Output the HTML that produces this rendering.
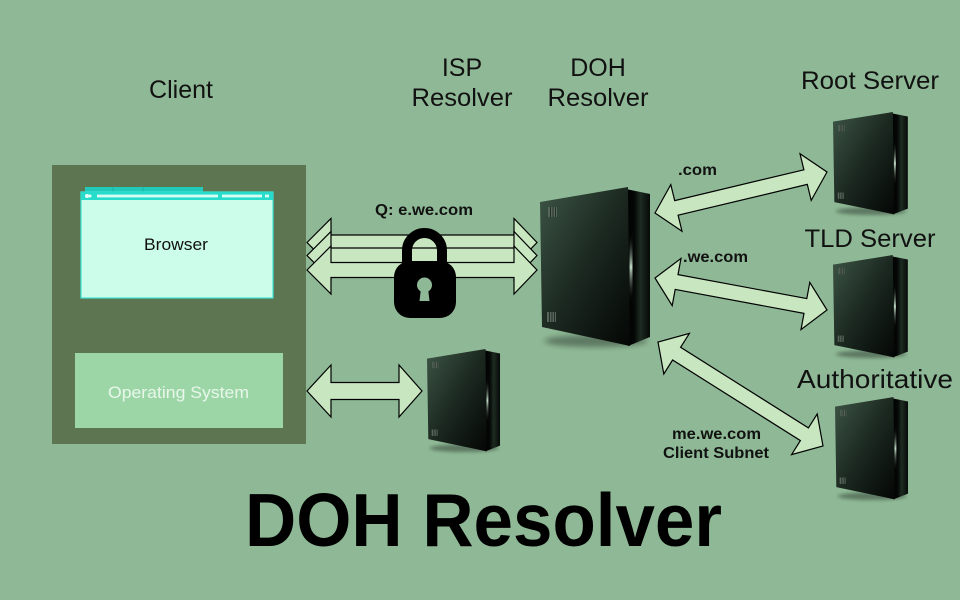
<!DOCTYPE html>
<html><head><meta charset="utf-8"><style>
html,body{margin:0;padding:0;background:#8fb996;}
svg{display:block;}
text{font-family:"Liberation Sans",sans-serif;fill:#111;}
</style></head><body>
<svg width="960" height="600" viewBox="0 0 960 600" xmlns="http://www.w3.org/2000/svg">
<defs>
  <linearGradient id="front" x1="0" y1="0" x2="1" y2="1">
    <stop offset="0" stop-color="#3d5546"/>
    <stop offset="0.5" stop-color="#1b2820"/>
    <stop offset="1" stop-color="#040605"/>
  </linearGradient>
  <linearGradient id="side" x1="0" y1="0" x2="1" y2="0">
    <stop offset="0" stop-color="#000"/>
    <stop offset="0.35" stop-color="#050806"/>
    <stop offset="0.6" stop-color="#1d2b22"/>
    <stop offset="1" stop-color="#070a08"/>
  </linearGradient>
  <linearGradient id="hl" x1="0" y1="0" x2="0" y2="1">
    <stop offset="0" stop-color="#000" stop-opacity="0"/>
    <stop offset="0.5" stop-color="#c0dcc6"/>
    <stop offset="1" stop-color="#000" stop-opacity="0"/>
  </linearGradient>
  <filter id="blur" x="-20%" y="-100%" width="140%" height="300%"><feGaussianBlur stdDeviation="3"/></filter>
  <g id="srv">
    <ellipse cx="56" cy="154" rx="52" ry="6" fill="#000" opacity=".35" filter="url(#blur)"/>
    <polygon points="86,2 110,7 110,150 88,159" fill="url(#side)"/>
    <polygon points="0,15 88,0 90,159 2,140" fill="url(#front)"/>
    <rect x="89.5" y="45" width="3" height="70" fill="url(#hl)"/>
    <g fill="#56665b">
      <rect x="8" y="20" width="9" height="10"/>
      <rect x="7" y="125" width="9" height="10"/>
    </g>
    <g stroke="#1a221d" stroke-width="0.8">
      <line x1="10.5" y1="20" x2="10.5" y2="30"/><line x1="13" y1="20" x2="13" y2="30"/><line x1="15.5" y1="20" x2="15.5" y2="30"/>
      <line x1="9.5" y1="125" x2="9.5" y2="135"/><line x1="12" y1="125" x2="12" y2="135"/><line x1="14.5" y1="125" x2="14.5" y2="135"/>
    </g>
  </g>
</defs>

<rect width="960" height="600" fill="#8fb996"/>

<!-- Top labels -->
<text x="181" y="98" font-size="25" text-anchor="middle">Client</text>
<text x="462" y="76" font-size="25" text-anchor="middle">ISP</text>
<text x="462" y="106" font-size="25" text-anchor="middle" textLength="101" lengthAdjust="spacingAndGlyphs">Resolver</text>
<text x="598" y="76" font-size="25" text-anchor="middle">DOH</text>
<text x="598" y="106" font-size="25" text-anchor="middle" textLength="101" lengthAdjust="spacingAndGlyphs">Resolver</text>
<text x="870" y="89" font-size="25" text-anchor="middle" textLength="138" lengthAdjust="spacingAndGlyphs">Root Server</text>
<text x="870" y="247" font-size="25" text-anchor="middle" textLength="131" lengthAdjust="spacingAndGlyphs">TLD Server</text>
<text x="875" y="388" font-size="26" text-anchor="middle" textLength="156" lengthAdjust="spacingAndGlyphs">Authoritative</text>

<!-- Client box -->
<rect x="52" y="165" width="254" height="279" fill="#5e7552"/>
<!-- Browser -->
<rect x="85" y="187" width="118" height="7" fill="#20c9b9"/>
<line x1="113" y1="187" x2="113" y2="193" stroke="#18b0a2" stroke-width="1"/>
<line x1="143" y1="187" x2="143" y2="193" stroke="#18b0a2" stroke-width="1"/>
<rect x="81" y="192" width="192" height="106" fill="#ccfdea" stroke="#3ee6d6" stroke-width="1.2"/>
<rect x="81" y="192" width="192" height="8" fill="#27dccb"/>
<circle cx="87" cy="196" r="2" fill="#e8fff9"/>
<circle cx="90" cy="196" r="1.5" fill="#e8fff9"/>
<rect x="97" y="194.6" width="121" height="2.8" fill="#d9fff4"/>
<rect x="222" y="194.6" width="40" height="2.8" fill="#d9fff4"/>
<rect x="265" y="194.6" width="4" height="2.8" fill="#d9fff4"/>
<text x="176" y="250" font-size="16.5" text-anchor="middle" textLength="64" lengthAdjust="spacingAndGlyphs">Browser</text>
<!-- OS -->
<rect x="75" y="353" width="208" height="75" fill="#9cd6a7"/>
<text x="178.5" y="398" font-size="17" text-anchor="middle" style="fill:#e8f7ea" textLength="141" lengthAdjust="spacingAndGlyphs">Operating System</text>

<!-- Client <-> DOH arrows -->
<g fill="#c8e7c0" stroke="#000" stroke-width="1.2" stroke-linejoin="miter">
  <polygon points="307,242.5 331,218.5 331,235 514,235 514,218.5 537,242.5 514,266.5 514,250 331,250 331,266.5"/>
  <polygon points="307,255.5 331,231.5 331,248 514,248 514,231.5 537,255.5 514,279.5 514,263 331,263 331,279.5"/>
  <polygon points="307,270 331,246 331,262.5 514,262.5 514,246 537,270 514,294 514,277.5 331,277.5 331,294"/>
  <!-- OS <-> ISP -->
  <polygon points="307,391 331,365 331,382.5 399,382.5 399,365 422,391 399,417 399,399.5 331,399.5 331,417"/>
  <!-- DOH <-> Root -->
  <polygon points="655,213 682.0,231.2 678.1,215.2 807.3,184.4 811.2,200.4 827,172 800.0,153.8 803.9,169.8 674.7,200.6 670.8,184.6"/>
  <!-- DOH <-> TLD -->
  <polygon points="655,278 672.2,305.6 675.2,289.4 804.0,313.4 801.0,329.6 827,310 809.8,282.4 806.8,298.6 678.0,274.6 681.0,258.4"/>
  <!-- DOH <-> Auth -->
  <polygon points="658,342 663.8,374.0 672.6,360.0 800.4,440.6 791.6,454.6 823,446 817.2,414.0 808.4,427.9 680.6,347.3 689.4,333.4"/>
</g>

<!-- Lock -->
<path d="M407,266 L407,250.5 A17.5,17.5 0 0 1 442,250.5 L442,266" fill="none" stroke="#000" stroke-width="10"/>
<rect x="394" y="261" width="62" height="57" rx="16" ry="16" fill="#000"/>
<circle cx="424.5" cy="285" r="7.5" fill="#8fb996"/>
<polygon points="421,288 428,288 429.5,301 419.5,301" fill="#8fb996"/>
<text x="424" y="215" font-size="15.5" font-weight="bold" text-anchor="middle" textLength="98" lengthAdjust="spacingAndGlyphs">Q: e.we.com</text>

<!-- Servers -->
<use href="#srv" transform="translate(540,187)"/>
<use href="#srv" transform="translate(427,349) scale(0.664,0.644)"/>
<use href="#srv" transform="translate(833,112) scale(0.68,0.644)"/>
<use href="#srv" transform="translate(833,255) scale(0.68,0.644)"/>
<use href="#srv" transform="translate(835,397) scale(0.664,0.644)"/>

<!-- Connector labels -->
<text x="697.5" y="175" font-size="15.5" font-weight="bold" text-anchor="middle" textLength="39" lengthAdjust="spacingAndGlyphs">.com</text>
<text x="715.5" y="262" font-size="15.5" font-weight="bold" text-anchor="middle" textLength="65" lengthAdjust="spacingAndGlyphs">.we.com</text>
<text x="716.5" y="439" font-size="15.5" font-weight="bold" text-anchor="middle" textLength="89" lengthAdjust="spacingAndGlyphs">me.we.com</text>
<text x="716" y="458" font-size="15.5" font-weight="bold" text-anchor="middle" textLength="106" lengthAdjust="spacingAndGlyphs">Client Subnet</text>

<!-- Title -->
<text x="245" y="546" font-size="75" font-weight="bold" style="fill:#000" textLength="477" lengthAdjust="spacingAndGlyphs">DOH Resolver</text>
</svg>
</body></html>
